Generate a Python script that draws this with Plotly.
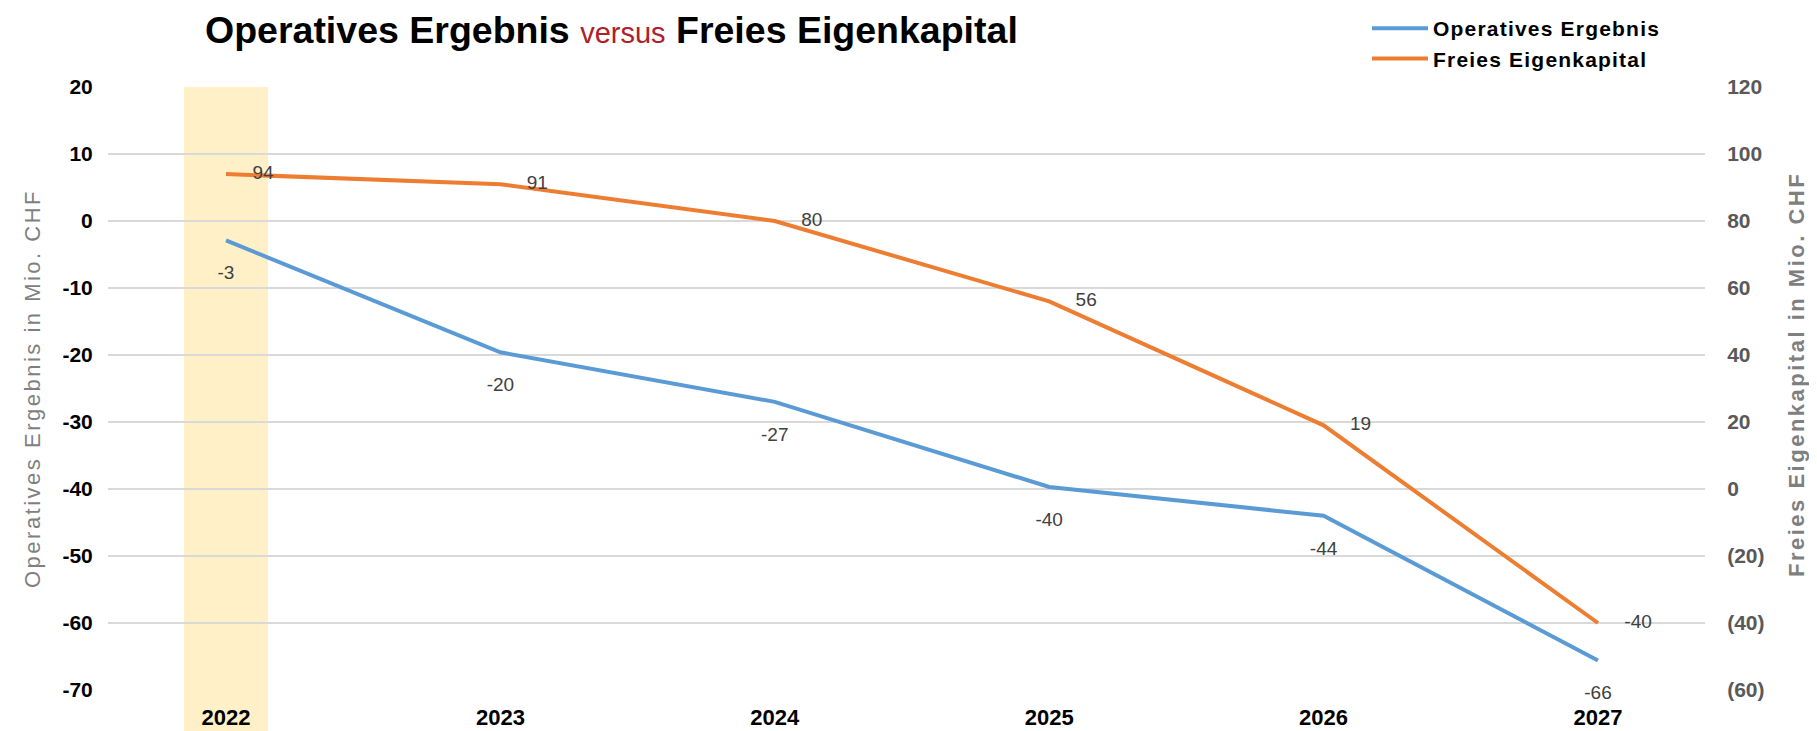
import plotly.graph_objects as go

years = ["2022", "2023", "2024", "2025", "2026", "2027"]
op_ergebnis = [-2.9, -19.6, -27.0, -39.7, -44.0, -65.6]
op_labels = ["-3", "-20", "-27", "-40", "-44", "-66"]
eigenkapital = [94, 91, 80, 56, 19, -40]
ek_labels = ["94", "91", "80", "56", "19", "-40"]
left_ticks = [20, 10, 0, -10, -20, -30, -40, -50, -60, -70]
left_ticktext = ["20", "10", "0", "-10", "-20", "-30", "-40", "-50", "-60", "-70"]
right_ticks = [120, 100, 80, 60, 40, 20, 0, -20, -40, -60]
right_ticktext = ["120", "100", "80", "60", "40", "20", "0", "(20)", "(40)", "(60)"]

FONT = "Liberation Sans, Arial, sans-serif"
BLUE = "#5B9BD5"
ORANGE = "#ED7D31"
NB = "\u00a0"
W, H = 1809, 723  # page body adds an 8px offset
ML, MR, MT, MB = 100, 112, 79, 41
LEG = "<span style='letter-spacing:1.2px'><b>{}</b></span>"

fig = go.Figure()
fig.add_trace(go.Scatter(
    x=years, y=op_ergebnis, mode="lines+text", name=LEG.format("Operatives Ergebnis"),
    line=dict(color=BLUE, width=4), text=["<br>" + t for t in op_labels],
    textposition="bottom center",
    textfont=dict(family=FONT, size=19, color="#404040"), yaxis="y", cliponaxis=False,
))
fig.add_trace(go.Scatter(
    x=years, y=eigenkapital, mode="lines+text", name=LEG.format("Freies Eigenkapital"),
    line=dict(color=ORANGE, width=4), text=[NB * 5 + t for t in ek_labels],
    textposition="middle right",
    textfont=dict(family=FONT, size=19, color="#404040"), yaxis="y2", cliponaxis=False,
))

fig.add_shape(type="rect", xref="x", yref="paper", x0=-0.153, x1=0.153, y0=-0.07, y1=1,
              fillcolor="#FFF0C8", line=dict(width=0), layer="below")

plot_w = W - ML - MR
plot_h = H - MT - MB
fig.add_annotation(
    text="<span style='letter-spacing:2.5px'><b>Freies Eigenkapital in Mio. CHF</b></span>",
    xref="paper", yref="paper", x=(1788 - ML) / plot_w, y=(H - MB - 367) / plot_h,
    xanchor="center", yanchor="middle", textangle=-90, showarrow=False,
    font=dict(family=FONT, size=22, color="#7F7F7F"),
)

fig.update_layout(
    width=W, height=H,
    margin=dict(l=ML, r=MR, t=MT, b=MB, autoexpand=False),
    paper_bgcolor="white", plot_bgcolor="white",
    font=dict(family=FONT),
    title=dict(
        text="<b>Operatives Ergebnis</b> <span style='color:#B0202A;font-size:29px'>versus</span> <b>Freies Eigenkapital</b>",
        x=197/W, xanchor="left", y=1-22/H, yanchor="middle",
        font=dict(family=FONT, size=37.5, color="black"),
    ),
    legend=dict(xref="container", yref="container", x=1359/W, y=1,
                xanchor="left", yanchor="top", bgcolor="rgba(0,0,0,0)",
                font=dict(family=FONT, size=21, color="black"), itemwidth=56),
    xaxis=dict(type="category", range=[-0.43, 5.39], showgrid=False, showline=False,
               zeroline=False, ticks="outside", ticklen=8, tickcolor="rgba(0,0,0,0)",
               tickfont=dict(family=FONT, size=22, color="black", weight="bold")),
    yaxis=dict(range=[-70, 20], tickvals=left_ticks, ticktext=left_ticktext,
               showgrid=True, gridcolor="#D9D9D9",
               gridwidth=1.5, zeroline=False, showline=False,
               tickfont=dict(family=FONT, size=21, color="black", weight="bold"),
               ticks="outside", ticklen=10, tickcolor="rgba(0,0,0,0)",
               title=dict(text="<span style='letter-spacing:2.5px'>Operatives Ergebnis in Mio. CHF</span>",
                          standoff=15,
                          font=dict(family=FONT, size=22, color="#7F7F7F"))),
    yaxis2=dict(range=[-60, 120], overlaying="y", side="right", tickvals=right_ticks,
                ticktext=right_ticktext, showgrid=False, zeroline=False, showline=False,
                tickfont=dict(family=FONT, size=21, color="#595959", weight="bold"),
                ticks="outside", ticklen=17, tickcolor="rgba(0,0,0,0)"),
    showlegend=True,
)

fig.write_html("out.html")
